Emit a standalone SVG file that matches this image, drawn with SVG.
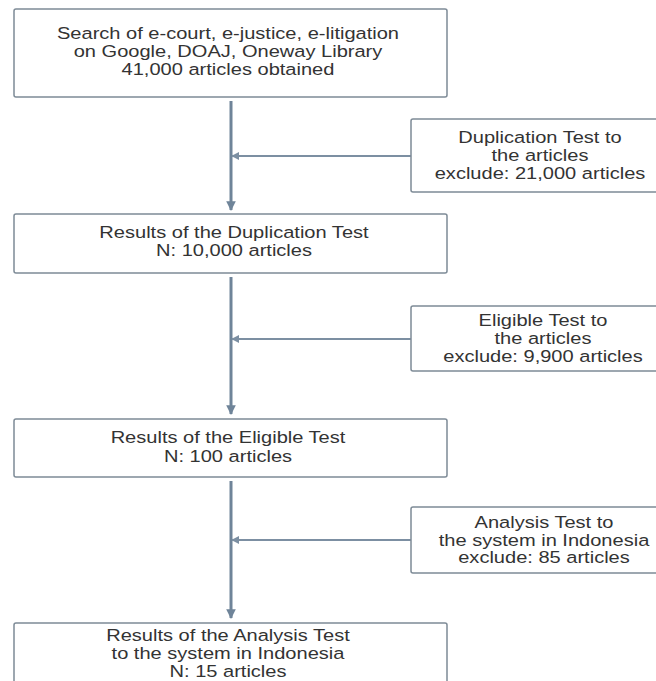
<svg xmlns="http://www.w3.org/2000/svg" width="656" height="681" viewBox="0 0 656 681">
<defs>
<style>
.box{fill:#fff;stroke:#7e8b97;stroke-width:1.5}
.t{font-family:"Liberation Sans",Arial,sans-serif;font-size:17px;fill:#333;text-anchor:middle}
.ln{stroke:#6f8499;stroke-width:3;fill:none}
.hl{stroke:#7c8fa2;stroke-width:2;fill:none}
</style>
<marker id="ah" viewBox="0 0 10 10" refX="9" refY="5" markerWidth="4" markerHeight="3.2" orient="auto" markerUnits="strokeWidth">
<path d="M0,0 L10,5 L0,10 z" fill="#6f8499"/>
</marker>
<marker id="ahs" viewBox="0 0 10 10" refX="9" refY="5" markerWidth="4" markerHeight="4" orient="auto" markerUnits="strokeWidth">
<path d="M0,0 L10,5 L0,10 z" fill="#7c8fa2"/>
</marker>
</defs>
<rect width="656" height="681" fill="#fff"/>
<g id="connectors">
<line class="ln" x1="231" y1="101" x2="231" y2="210" marker-end="url(#ah)"/>
<line class="hl" x1="411" y1="156" x2="232" y2="156" marker-end="url(#ahs)"/>
<line class="ln" x1="231" y1="277" x2="231" y2="414" marker-end="url(#ah)"/>
<line class="hl" x1="411" y1="339" x2="232" y2="339" marker-end="url(#ahs)"/>
<line class="ln" x1="231" y1="481" x2="231" y2="618" marker-end="url(#ah)"/>
<line class="hl" x1="411" y1="540" x2="232" y2="540" marker-end="url(#ahs)"/>
</g>
<g id="n1">
<rect class="box" x="14" y="9" width="433" height="88" rx="2"/>
<g transform="translate(228,0) scale(1.18,1)">
<text class="t" x="0" y="39">Search of e-court, e-justice, e-litigation</text>
<text class="t" x="0" y="57">on Google, DOAJ, Oneway Library</text>
<text class="t" x="0" y="75.5">41,000 articles obtained</text>
</g>
</g>
<g id="s1">
<rect class="box" x="411" y="119" width="260" height="73" rx="2"/>
<g transform="translate(540,0) scale(1.18,1)">
<text class="t" x="0" y="143">Duplication Test to</text>
<text class="t" x="0" y="161">the articles</text>
<text class="t" x="0" y="179">exclude: 21,000 articles</text>
</g>
</g>
<g id="n2">
<rect class="box" x="14" y="214" width="433" height="59" rx="2"/>
<g transform="translate(234,0) scale(1.18,1)">
<text class="t" x="0" y="238">Results of the Duplication Test</text>
<text class="t" x="0" y="256">N: 10,000 articles</text>
</g>
</g>
<g id="s2">
<rect class="box" x="411" y="306" width="260" height="65" rx="2"/>
<g transform="translate(543,0) scale(1.18,1)">
<text class="t" x="0" y="326">Eligible Test to</text>
<text class="t" x="0" y="344">the articles</text>
<text class="t" x="0" y="362">exclude: 9,900 articles</text>
</g>
</g>
<g id="n3">
<rect class="box" x="14" y="419" width="433" height="58" rx="2"/>
<g transform="translate(228,0) scale(1.18,1)">
<text class="t" x="0" y="443">Results of the Eligible Test</text>
<text class="t" x="0" y="462">N: 100 articles</text>
</g>
</g>
<g id="s3">
<rect class="box" x="411" y="507" width="260" height="66" rx="2"/>
<g transform="translate(544,0) scale(1.18,1)">
<text class="t" x="0" y="528">Analysis Test to</text>
<text class="t" x="0" y="546">the system in Indonesia</text>
<text class="t" x="0" y="563.5">exclude: 85 articles</text>
</g>
</g>
<g id="n4">
<rect class="box" x="14" y="623" width="433" height="80" rx="2"/>
<g transform="translate(228,0) scale(1.18,1)">
<text class="t" x="0" y="641">Results of the Analysis Test</text>
<text class="t" x="0" y="659">to the system in Indonesia</text>
<text class="t" x="0" y="677">N: 15 articles</text>
</g>
</g>
</svg>
